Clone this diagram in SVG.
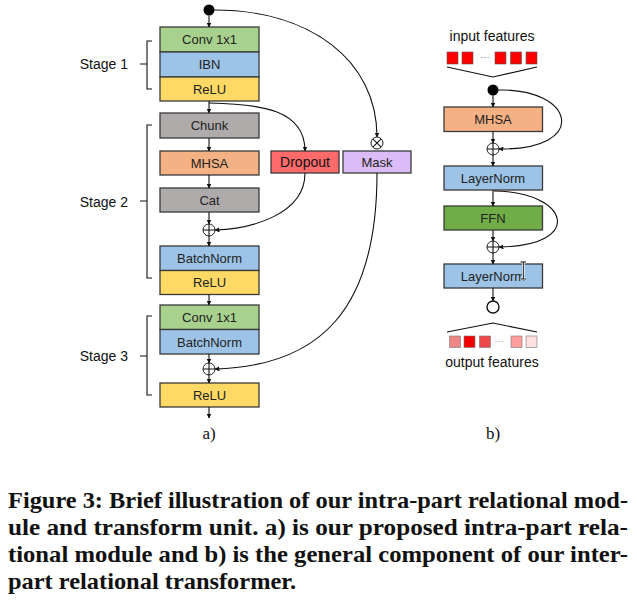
<svg xmlns="http://www.w3.org/2000/svg" width="637" height="609" viewBox="0 0 637 609">
<defs>
<marker id="ah" viewBox="0 0 10 10" refX="9" refY="5" markerWidth="5" markerHeight="5" orient="auto" markerUnits="userSpaceOnUse">
<path d="M0,0 L10,5 L0,10 z" fill="#111"/>
</marker>
<style>
.box{stroke:#3a3a3a;stroke-width:1.3}
.lbl{font-family:"Liberation Sans","Noto Sans",sans-serif;font-size:13px;fill:#222;text-anchor:middle;dominant-baseline:central}
.stg{font-family:"Liberation Sans",Arial,sans-serif;font-size:14px;fill:#111;text-anchor:end;dominant-baseline:central}
.ln{fill:none;stroke:#111;stroke-width:1.1}
.ar{fill:none;stroke:#111;stroke-width:1.1;marker-end:url(#ah)}
.op{fill:#fff;stroke:#222;stroke-width:1}
.cap{font-family:"Liberation Serif","Times New Roman",serif;font-size:23.5px;font-weight:bold;fill:#111}
.sub{font-family:"Liberation Serif","Times New Roman",serif;font-size:17px;fill:#111;text-anchor:middle}
.feat{font-family:"Liberation Sans",Arial,sans-serif;font-size:14px;fill:#111;text-anchor:middle}
.g{fill:#a9d18e}.b{fill:#9dc3e6}.y{fill:#ffd966}.gr{fill:#afabab}.o{fill:#f4b183}
</style>
</defs>

<!-- left diagram a) -->
<g id="input-dot-a"><circle cx="209" cy="10" r="5.5" fill="#000"/></g>
<g id="conv1"><rect class="box g" x="160" y="27" width="99" height="25"/><text class="lbl" x="209.5" y="39.5">Conv 1x1</text></g>
<g id="ibn"><rect class="box b" x="160" y="52" width="99" height="25"/><text class="lbl" x="209.5" y="64.5">IBN</text></g>
<g id="relu1"><rect class="box y" x="160" y="77" width="99" height="24"/><text class="lbl" x="209.5" y="89">ReLU</text></g>
<g id="chunk"><rect class="box gr" x="160" y="113" width="99" height="25"/><text class="lbl" x="209.5" y="125.5">Chunk</text></g>
<g id="mhsa-a"><rect class="box o" x="160" y="151" width="99" height="24"/><text class="lbl" x="209.5" y="163">MHSA</text></g>
<g id="cat"><rect class="box gr" x="160" y="188" width="99" height="24"/><text class="lbl" x="209.5" y="200">Cat</text></g>
<g id="add1"><circle class="op" cx="209" cy="230" r="6"/><path class="ln" d="M203 230 H215 M209 224 V236" stroke-width="0.9"/></g>
<g id="bn2"><rect class="box b" x="160" y="246" width="99" height="24.5"/><text class="lbl" x="209.5" y="258.5">BatchNorm</text></g>
<g id="relu2"><rect class="box y" x="160" y="270.5" width="99" height="24"/><text class="lbl" x="209.5" y="282.5">ReLU</text></g>
<g id="conv3"><rect class="box g" x="160" y="305" width="99" height="24.5"/><text class="lbl" x="209.5" y="317.5">Conv 1x1</text></g>
<g id="bn3"><rect class="box b" x="160" y="329.5" width="99" height="24.5"/><text class="lbl" x="209.5" y="342">BatchNorm</text></g>
<g id="add2"><circle class="op" cx="209" cy="369" r="6"/><path class="ln" d="M203 369 H215 M209 363 V375" stroke-width="0.9"/></g>
<g id="relu3"><rect class="box y" x="160" y="383" width="99" height="24"/><text class="lbl" x="209.5" y="395">ReLU</text></g>
<g id="dropout"><rect class="box" fill="#ff6b6b" x="271" y="151" width="68" height="22"/><text class="lbl" x="305" y="162" style="font-size:14px;fill:#111">Dropout</text></g>
<g id="mask"><rect class="box" fill="#dcbcf7" x="343" y="151" width="68" height="22"/><text class="lbl" x="377" y="162">Mask</text></g>
<g id="mul"><circle class="op" cx="377" cy="143" r="6"/><path class="ln" d="M372.8 138.8 L381.2 147.2 M381.2 138.8 L372.8 147.2" stroke-width="0.9"/></g>

<g id="stage1"><path class="ln" d="M152 41 H147 V89 H152 M147 64 H140"/><text class="stg" x="128" y="64">Stage 1</text></g>
<g id="stage2"><path class="ln" d="M152 125 H147 V278 H152 M147 201 H140"/><text class="stg" x="128" y="202">Stage 2</text></g>
<g id="stage3"><path class="ln" d="M152 316 H147 V395 H152 M147 356 H140"/><text class="stg" x="128" y="356">Stage 3</text></g>

<!-- right diagram b) -->
<g id="input-features">
<text class="feat" x="492" y="41">input features</text>
<rect x="447" y="52" width="11" height="12" fill="#f00" stroke="#555" stroke-width="0.6"/>
<rect x="462" y="52" width="11" height="12" fill="#f00" stroke="#555" stroke-width="0.6"/>
<text x="485" y="60" font-family="Liberation Sans,sans-serif" font-size="9" fill="#666" text-anchor="middle">···</text>
<rect x="495" y="52" width="11" height="12" fill="#f00" stroke="#555" stroke-width="0.6"/>
<rect x="510.5" y="52" width="11" height="12" fill="#f00" stroke="#555" stroke-width="0.6"/>
<rect x="526" y="52" width="11" height="12" fill="#f00" stroke="#555" stroke-width="0.6"/>
<path class="ln" d="M447 67 L493 77 L537 67" stroke-width="1.6"/>
</g>
<g id="input-dot-b"><circle cx="493" cy="90" r="5.5" fill="#000"/></g>
<g id="mhsa-b"><rect class="box o" x="444" y="107" width="98.5" height="24.5"/><text class="lbl" x="493" y="119.5">MHSA</text></g>
<g id="add3"><circle class="op" cx="493" cy="149" r="6"/><path class="ln" d="M487 149 H499 M493 143 V155" stroke-width="0.9"/></g>
<g id="layernorm1"><rect class="box b" x="444" y="166" width="98.5" height="24"/><text class="lbl" x="493" y="178">LayerNorm</text></g>
<g id="ffn"><rect class="box" fill="#70ad47" x="444" y="206" width="98.5" height="24"/><text class="lbl" x="493" y="218">FFN</text></g>
<g id="add4"><circle class="op" cx="493" cy="247" r="6"/><path class="ln" d="M487 247 H499 M493 241 V253" stroke-width="0.9"/></g>
<g id="layernorm2"><rect class="box b" x="444" y="264" width="98.5" height="24"/><text class="lbl" x="493" y="276">LayerNorm</text></g>
<g id="output-circle"><circle cx="493" cy="307" r="6" fill="#fff" stroke="#111" stroke-width="1.4"/></g>
<g id="output-features">
<path class="ln" d="M447 332 L493 323 L537 332" stroke-width="1.6"/>
<rect x="449.5" y="336" width="11" height="11.5" fill="#f08585" stroke="#777" stroke-width="0.6"/>
<rect x="464" y="336" width="11" height="11.5" fill="#f00000" stroke="#777" stroke-width="0.6"/>
<rect x="479.5" y="336" width="11" height="11.5" fill="#f04848" stroke="#777" stroke-width="0.6"/>
<text x="499" y="344" font-family="Liberation Sans,sans-serif" font-size="9" fill="#888" text-anchor="middle">···</text>
<rect x="511" y="336" width="11" height="11.5" fill="#ff9c9c" stroke="#777" stroke-width="0.6"/>
<rect x="526" y="336" width="11" height="11.5" fill="#ffe0e0" stroke="#777" stroke-width="0.6"/>
<text class="feat" x="492" y="367">output features</text>
</g>

<!-- connectors -->
<g id="connectors">
<path class="ar" d="M209 15.5 V27"/>
<path class="ar" d="M209 101 V113"/>
<path class="ar" d="M209 138 V151"/>
<path class="ar" d="M209 175 V188"/>
<path class="ar" d="M209 212 V224"/>
<path class="ar" d="M209 236 V246"/>
<path class="ar" d="M209 294.5 V305"/>
<path class="ar" d="M209 354 V363"/>
<path class="ar" d="M209 375 V383"/>
<path class="ar" d="M209 407 V418"/>
<path class="ar" d="M214 10 C310 10, 377 60, 377 137"/>
<path class="ar" d="M209 103 C262 104, 305 110, 305 151"/>
<path class="ar" d="M305 173 C305 215, 250 229, 215 230"/>
<path class="ar" d="M377 173 C377 310, 320 366, 215 369"/>
<path class="ar" d="M493 95.5 V107"/>
<path class="ar" d="M493 131.5 V143"/>
<path class="ar" d="M493 155 V166"/>
<path class="ar" d="M493 190 V206"/>
<path class="ar" d="M493 230 V241"/>
<path class="ar" d="M493 253 V264"/>
<path class="ar" d="M493 288 V301"/>
<path class="ar" d="M498 90 C575 88, 590 150, 499 149"/>
<path class="ar" d="M494 191 C570 192, 585 246, 499 247"/>
</g>

<!-- mouse cursor (I-beam) seen in the picture -->
<path d="M520.5 262 H526 M523.3 262 V279 M520.5 279 H526" fill="none" stroke="#fff" stroke-width="2.6"/>
<path d="M520.5 262 H526 M523.3 262 V279 M520.5 279 H526" fill="none" stroke="#111" stroke-width="1"/>

<text class="sub" x="209" y="439">a)</text>
<text class="sub" x="493" y="439">b)</text>

<g id="caption">
<text class="cap" x="8" y="508" textLength="620" lengthAdjust="spacingAndGlyphs">Figure 3: Brief illustration of our intra-part relational mod-</text>
<text class="cap" x="8" y="535" textLength="620" lengthAdjust="spacingAndGlyphs">ule and transform unit. a) is our proposed intra-part rela-</text>
<text class="cap" x="8" y="562" textLength="620" lengthAdjust="spacingAndGlyphs">tional module and b) is the general component of our inter-</text>
<text class="cap" x="8" y="589" textLength="288" lengthAdjust="spacingAndGlyphs">part relational transformer.</text>
</g>
</svg>
